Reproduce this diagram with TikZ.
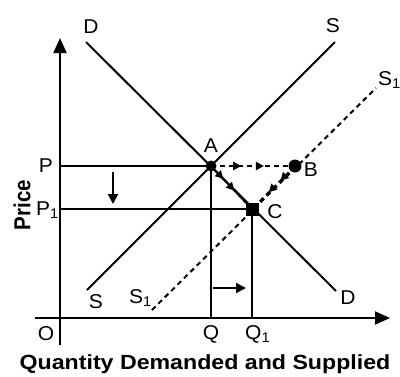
\documentclass[tikz,border=0pt]{standalone}
\usepackage{fontspec}
\setmainfont{Liberation Sans}
\usetikzlibrary{arrows.meta,decorations.markings}

\begin{document}
\begin{tikzpicture}[x=1pt,y=-1pt,
  curve/.style={line width=2pt},
  shifted/.style={line width=2pt,dash pattern=on 5pt off 4pt},
  guide/.style={line width=1.8pt},
  axis/.style={line width=2pt,-{Triangle[length=15pt,width=13pt]}},
  move/.style={line width=2pt,-{Triangle[length=10pt,width=10pt]}},
  lbl/.style={font=\fontsize{20}{20}\selectfont,inner sep=0pt,xscale=1.05},
  title/.style={font=\bfseries\fontsize{20.5}{20}\selectfont,inner sep=0pt,xscale=1.13},
  dot/.style={circle,fill=black,inner sep=0pt,minimum size=#1},
  sq/.style={rectangle,fill=black,inner sep=0pt,minimum size=13pt},
  midarr/.style={postaction={decorate},decoration={markings,
    mark=at position #1 with {\arrow{Triangle[length=8pt,width=8pt]}},
    mark=at position #1+0.27 with {\arrow{Triangle[length=8pt,width=8pt]}}}}]
\useasboundingbox (0,0) rectangle (400,376);
\coordinate (O) at (60,318);
\coordinate (ybot) at (60,345);
\coordinate (ytop) at (60,38);
\coordinate (xleft) at (35,318);
\coordinate (xright) at (390,318);
\coordinate (Dtop) at (86,42);
\coordinate (Dbot) at (336,291);
\coordinate (Sbot) at (87,290);
\coordinate (Stop) at (335,42);
\coordinate (S1bot) at (152,310);
\coordinate (S1top) at (376,88);
\coordinate (A) at (211,166);
\coordinate (B) at (295,166);
\coordinate (C) at (252,209);
\coordinate (Pax) at (60,166);
\coordinate (P1ax) at (60,209);
\coordinate (Qax) at (211,318);
\coordinate (Q1ax) at (252,318);
\coordinate (dn1) at (113,172);
\coordinate (dn2) at (113,204);
\coordinate (rt1) at (213,288);
\coordinate (rt2) at (246,288);

\draw[axis] (ybot) -- (ytop);
\draw[axis] (xleft) -- (xright);
\draw[guide] (Pax) -- (A);
\draw[guide] (P1ax) -- (C);
\draw[guide] (A) -- (Qax);
\draw[guide] (C) -- (Q1ax);
\draw[curve] (Dtop) -- (Dbot);
\draw[curve] (Sbot) -- (Stop);
\draw[shifted] (S1bot) -- (S1top);
\draw[shifted,midarr=0.36] (A) -- (B);
\draw[curve,midarr=0.3] (A) -- (C);
\draw[shifted,midarr=0.34] (B) -- (C);
\draw[move] (dn1) -- (dn2);
\draw[move] (rt1) -- (rt2);

\node[dot=11pt] (ptA) at (A) {};
\node[dot=13pt] (ptB) at (B) {};
\node[sq] (ptC) at (C) {};

\node[lbl] (lD) at (91,27) {D};
\node[lbl] (lS) at (333,26) {S};
\node[lbl,anchor=west] (lS1) at (378,80) {S\textsubscript{1}};
\node[lbl] (lA) at (211,146) {A};
\node[lbl] (lB) at (311,170) {B};
\node[lbl] (lC) at (275,212) {C};
\node[lbl] (lP) at (46,166) {P};
\node[lbl,anchor=west] (lP1) at (36,210) {P\textsubscript{1}};
\node[lbl] (lSb) at (96,302) {S};
\node[lbl,anchor=west] (lS1b) at (129,298) {S\textsubscript{1}};
\node[lbl] (lDb) at (348,298) {D};
\node[lbl] (lO) at (46,334) {O};
\node[lbl] (lQ) at (211,334) {Q};
\node[lbl,anchor=west] (lQ1) at (245,334) {Q\textsubscript{1}};
\node[title,rotate=90] (price) at (22,205) {Price};
\node[title] (quant) at (205,364) {Quantity Demanded and Supplied};
\end{tikzpicture}
\end{document}
